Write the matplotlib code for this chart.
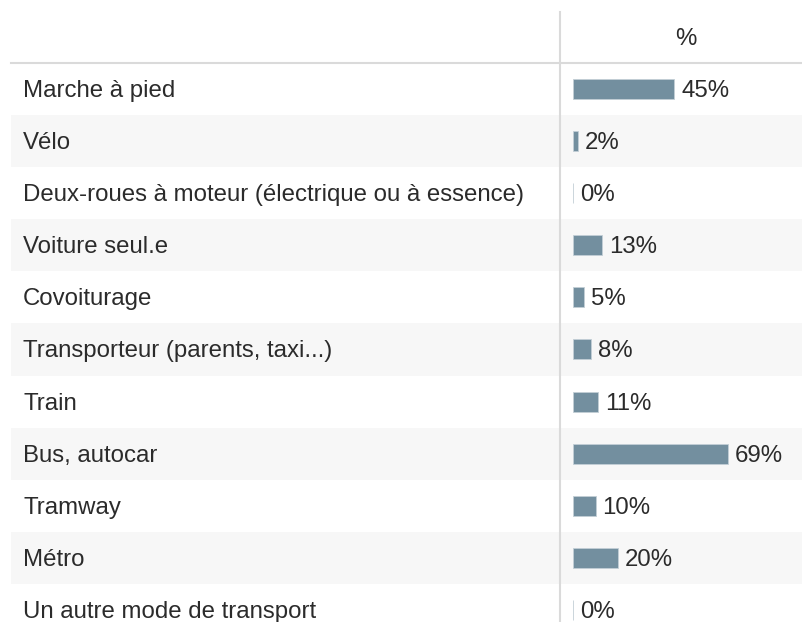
import matplotlib
matplotlib.use("Agg")
import matplotlib.pyplot as plt

# ----------------------
# Data
# ----------------------
modes = [
    "Marche à pied",
    "Vélo",
    "Deux-roues à moteur (électrique ou à essence)",
    "Voiture seul.e",
    "Covoiturage",
    "Transporteur (parents, taxi...)",
    "Train",
    "Bus, autocar",
    "Tramway",
    "Métro",
    "Un autre mode de transport",
]
percent = [45, 2, 0, 13, 5, 8, 11, 69, 10, 20, 0]
header = "%"

plt.rcParams["font.family"] = ["Liberation Sans", "DejaVu Sans"]

W, H = 802, 622
row_h = 52.1
first_center = 89
y_top = -first_center / row_h
y_bot = (H - first_center) / row_h
fs = 17.3
txt_col = "#2b2b2b"
base = 8 / row_h  # baseline below row centre

fig = plt.figure(figsize=(W / 100, H / 100), dpi=100)

# background axes: x in pixels, y in rows
bg = fig.add_axes([0, 0, 1, 1])
bg.set_xlim(0, W)
bg.set_ylim(y_bot, y_top)
bg.axis("off")

n = len(modes)
for i in range(n):
    if i % 2 == 1:
        bg.fill_between([11, W], i - 0.5, i + 0.5, color="#f7f7f7", lw=0, zorder=0)
    bg.text(23, i + base, modes[i], va="baseline", ha="left", fontsize=fs, color=txt_col)

# header line + vertical separator
bg.plot([11, W], [-0.5, -0.5], color="#dadada", lw=1.5, zorder=2)
bg.plot([560, 560], [y_top + 12 / row_h, y_bot], color="#dadada", lw=1.5, zorder=2)
bg.text(686, y_top + 45 / row_h, header, ha="center", va="baseline", fontsize=fs, color=txt_col)

# bar axes: x in percent
left = 573
ax = fig.add_axes([left / W, 0, (W - left) / W, 1])
ax.set_xlim(0, (W - left) / 2.25)
ax.set_ylim(y_bot, y_top)
ax.axis("off")
ax.patch.set_alpha(0)

ax.barh(range(n), percent, height=20 / row_h, color="#738f9f",
        edgecolor="#c3cfd6", linewidth=0.6, zorder=3)
for i, v in enumerate(percent):
    ax.annotate(f"{v}%", (v, i + base), xytext=(5, 0), textcoords="offset points",
                va="baseline", ha="left", fontsize=fs, color=txt_col)

fig.savefig("out.png", dpi=100)
